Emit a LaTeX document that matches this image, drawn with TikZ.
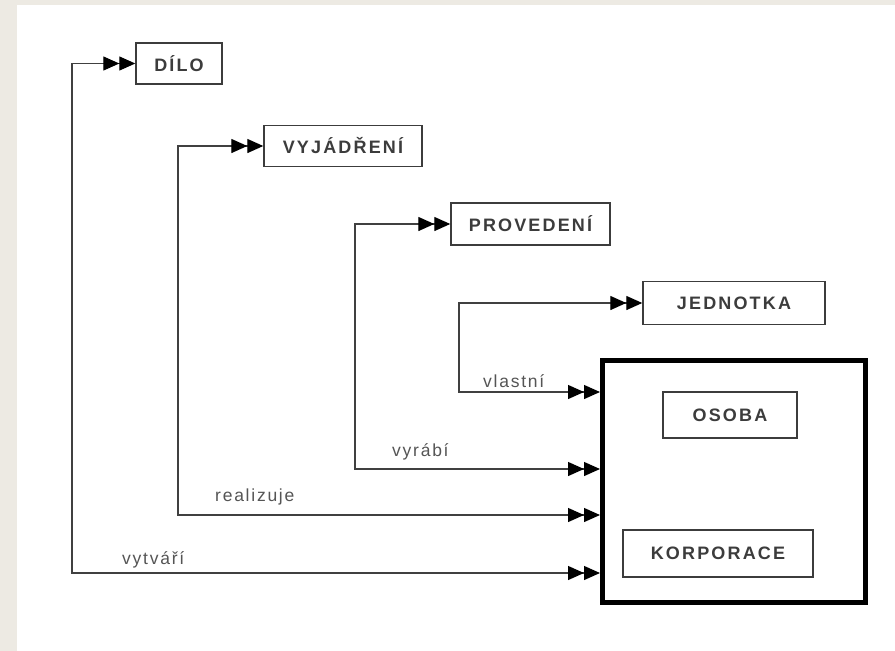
\documentclass[tikz,border=0pt]{standalone}
\usepackage{fontspec}
\usepackage{tikz}
\usetikzlibrary{arrows.meta, calc}
\setmainfont{Liberation Sans}
\newfontfamily\boxfont[LetterSpace=12]{Liberation Sans}
\newfontfamily\relfont[LetterSpace=10]{Liberation Sans}
\definecolor{pagebeige}{RGB}{237,234,227}
\definecolor{inkgray}{RGB}{60,60,60}
\definecolor{relgray}{RGB}{85,85,85}
\tikzset{
    entbox/.style={draw=inkgray, line width=1.4pt, inner sep=0pt,
        text=inkgray, font=\boxfont\bfseries\fontsize{18}{20}\selectfont},
    groupbox/.style={draw=black, line width=5pt, inner sep=0pt},
    relline/.style={draw=black!75, line width=1.3pt,
        {Triangle[length=16pt,width=14pt,color=black] Triangle[length=16pt,width=14pt,color=black]}-%
        {Triangle[length=16pt,width=14pt,color=black] Triangle[length=16pt,width=14pt,color=black]}},
    rellabel/.style={text=relgray, anchor=base west, inner sep=0pt,
        font=\relfont\fontsize{17.5}{20}\selectfont},
}

\begin{document}
\begin{tikzpicture}[x=1pt, y=-1pt]
    \useasboundingbox (0, 0) rectangle (895, 651);
    \fill[pagebeige] (0, 0) rectangle (895, 651); % Page frame
    \fill[white] (17, 4.5) rectangle (895, 651);

    \node[entbox, minimum width=86, minimum height=41] (dilo) at (179, 63.5) {DÍLO};
    \node[entbox, minimum width=158, minimum height=41] (vyjadreni) at (343, 146) {VYJÁDŘENÍ};
    \node[entbox, minimum width=159, minimum height=42] (provedeni) at (530.5, 224) {PROVEDENÍ};
    \node[entbox, minimum width=182, minimum height=43] (jednotka) at (734, 303) {JEDNOTKA};

    \node[groupbox, minimum width=262.5, minimum height=242.5] (tvurce) at (733.75, 481.25) {};
    \node[entbox, minimum width=134, minimum height=46] (osoba) at (730, 415) {OSOBA};
    \node[entbox, minimum width=190, minimum height=47] (korporace) at (718, 553.5) {KORPORACE};

    \coordinate (kdilo) at (72, 573); % Corners of the links
    \coordinate (kvyj) at (178, 515);
    \coordinate (kprov) at (355, 469);
    \coordinate (kjedn) at (459, 392);

    \draw[relline] (dilo.west) -| (kdilo) -- (kdilo -| tvurce.west);
    \draw[relline] (vyjadreni.west) -| (kvyj) -- (kvyj -| tvurce.west);
    \draw[relline] (provedeni.west) -| (kprov) -- (kprov -| tvurce.west);
    \draw[relline] (jednotka.west) -| (kjedn) -- (kjedn -| tvurce.west);

    \node[rellabel] (lvytvari) at (122, 564) {vytváří};
    \node[rellabel] (lrealizuje) at (215, 501) {realizuje};
    \node[rellabel] (lvyrabi) at (392, 456) {vyrábí};
    \node[rellabel] (lvlastni) at (483, 387) {vlastní};
\end{tikzpicture}
\end{document}
